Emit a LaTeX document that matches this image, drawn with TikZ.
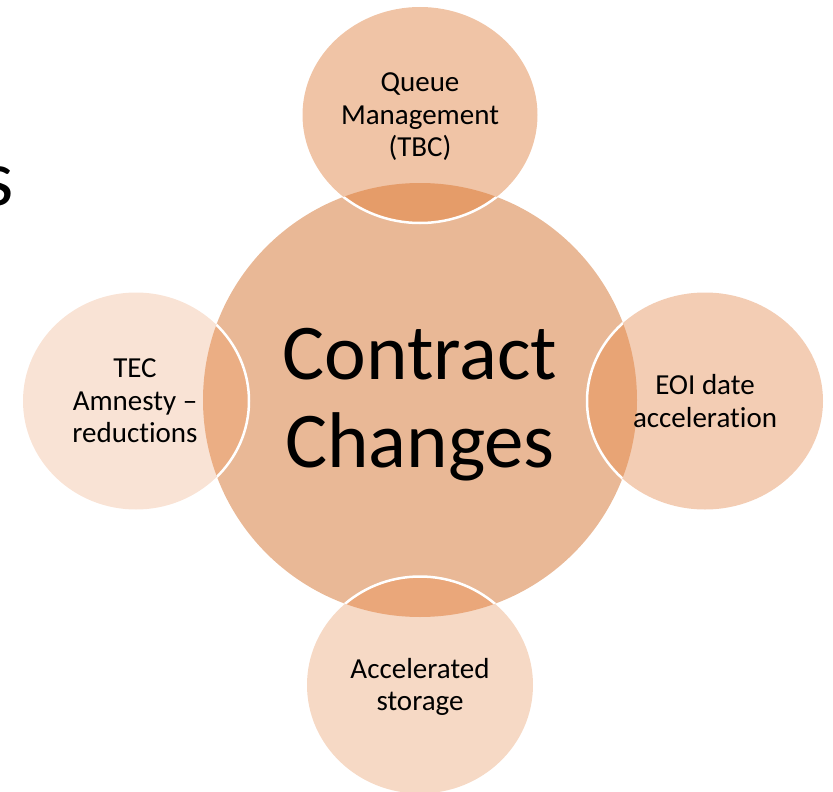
\documentclass[tikz,border=0pt]{standalone}
\usepackage{fontspec}
\setmainfont{Carlito}[Ligatures=NoCommon]
\usetikzlibrary{shapes.geometric}
\definecolor{cmain}{HTML}{E9B896}
\definecolor{ctop}{HTML}{F0C4A6}
\definecolor{otop}{HTML}{E59C69}
\definecolor{cright}{HTML}{F3CDB4}
\definecolor{oright}{HTML}{E8A475}
\definecolor{cleft}{HTML}{F9E3D5}
\definecolor{oleft}{HTML}{EBAE84}
\definecolor{cbot}{HTML}{F6D9C5}
\definecolor{obot}{HTML}{EAA77A}
\tikzset{
  ring/.style={draw=white, line width=2.5pt},
  small/.style={align=center, font=\fontsize{29}{32.5}\selectfont, text=black},
  big/.style={align=center, font=\fontsize{79}{88}\selectfont, text=black}
}
\begin{document}
\begin{tikzpicture}[x=1pt,y=-1pt]
\useasboundingbox (0,0) rectangle (833,792);
% main circle
\node[circle, fill=cmain, inner sep=0pt, minimum size=434pt] (c) at (420,400) {};
% satellite shapes
\node[ellipse, fill=ctop, inner sep=0pt, minimum width=235pt, minimum height=216pt] (q) at (420,115) {};
\node[ellipse, fill=cright, inner sep=0pt, minimum width=236pt, minimum height=217pt] (eoi) at (705,401) {};
\node[ellipse, fill=cleft, inner sep=0pt, minimum width=226pt, minimum height=217pt] (tec) at (136,401) {};
\node[ellipse, fill=cbot, inner sep=0pt, minimum width=226pt, minimum height=217pt] (acc) at (420,685) {};
% overlaps
\begin{scope}
\clip (420,400) circle [radius=217pt];
\fill[otop] (420,115) ellipse [x radius=117.5pt, y radius=108pt];
\fill[oright] (705,401) ellipse [x radius=118pt, y radius=108.5pt];
\fill[oleft] (136,401) ellipse [x radius=113pt, y radius=108.5pt];
\fill[obot] (420,685) ellipse [x radius=113pt, y radius=108.5pt];
\end{scope}
\begin{scope}
\clip (420,400) circle [radius=217pt];
\draw[ring] (420,115) ellipse [x radius=117.5pt, y radius=108pt];
\draw[ring] (705,401) ellipse [x radius=118pt, y radius=108.5pt];
\draw[ring] (136,401) ellipse [x radius=113pt, y radius=108.5pt];
\draw[ring] (420,685) ellipse [x radius=113pt, y radius=108.5pt];
\end{scope}
% texts
\node[big] (tc) at (420,405) {Contract\\Changes};
\node[small] (tq) at (420,117) {Queue\\Management\\(TBC)};
\node[small] (te) at (705,401) {EOI date\\acceleration};
\node[small] (tt) at (135,401) {TEC\\Amnesty –\\reductions};
\node[small] (ta) at (420,687) {Accelerated\\storage};
\node[anchor=base east, inner sep=0pt, font=\fontsize{80}{96}\selectfont] (s) at (14,205) {s};
\end{tikzpicture}
\end{document}
